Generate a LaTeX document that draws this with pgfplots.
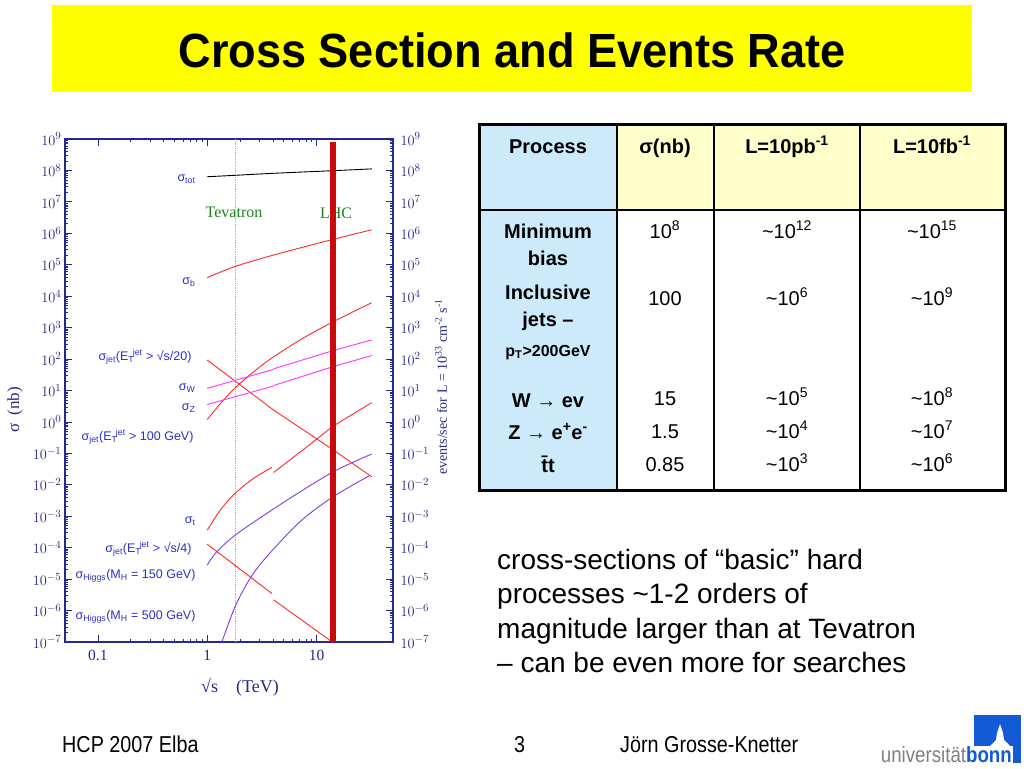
\documentclass[border=0pt]{standalone}
\usepackage{fontspec}
\setmainfont{Liberation Sans}
\newfontfamily\serif{Liberation Serif}
\usepackage{graphicx}
\usepackage{pgfplots}
\pgfplotsset{compat=1.18}

\definecolor{navy}{RGB}{40,40,140}
\definecolor{lblue}{RGB}{45,45,205}
\definecolor{cred}{RGB}{255,40,40}
\definecolor{cmag}{RGB}{255,50,255}
\definecolor{cpur}{RGB}{130,60,230}
\definecolor{lhcred}{RGB}{200,10,10}
\definecolor{tevg}{RGB}{30,130,30}
\definecolor{tevdot}{RGB}{150,190,150}
\definecolor{titley}{RGB}{255,255,0}
\definecolor{hblue}{RGB}{204,234,250}
\definecolor{hyel}{RGB}{255,255,204}
\definecolor{bonnblue}{RGB}{20,90,215}

\newcommand{\fs}[1]{\fontsize{#1}{#1}\selectfont}
\newcommand{\Et}{E\textsubscript{T}\kern-1.5pt\textsuperscript{jet}}

\begin{document}
\begin{tikzpicture}
\useasboundingbox (0pt,0pt) rectangle (1024pt,-768pt);
\begin{scope}[x=1pt, y=1pt]
\fill[white] (0,0) rectangle (1024,-768);
% title bar
\fill[titley] (52,-5) rectangle (972,-92);
\node at (512,-50) {\scalebox{0.94}[1]{\fs{48}\bfseries Cross Section and Events Rate}};
% labels drawn below the curves
\node[tevg, font=\serif\fs{16}] at (234,-212) {Tevatron};
\node[tevg, font=\serif\fs{16}] at (336,-213) {LHC};
% axis titles
\node[navy, font=\serif\fs{18}] at (240,-687) {\textsurd s\quad(TeV)};
\node[navy, font=\serif\fs{17}, rotate=90] at (15,-410) {σ\ \ (nb)};
\node[navy, font=\serif\fs{14}, rotate=90] at (441,-387) {events/sec for L = 10\textsuperscript{33} cm\textsuperscript{-2} s\textsuperscript{-1}};
\end{scope}

\begin{axis}[
  at={(65pt,-642pt)}, anchor=south west,
  width=328pt, height=503pt, scale only axis,
  xmode=log, ymode=log,
  xmin=0.05, xmax=50, ymin=1e-7, ymax=1e9,
  xtick={0.1,1,10}, xticklabels={0.1,1,10},
  ytick={1e-7,1e-6,1e-5,1e-4,1e-3,1e-2,1e-1,1,1e1,1e2,1e3,1e4,1e5,1e6,1e7,1e8,1e9},
  yticklabel pos=left,
  tick align=inside,
  major tick length=7pt, minor tick length=3.5pt,
  axis line style={navy, line width=1.2pt},
  every tick/.style={navy, line width=0.8pt},
  yticklabel style={navy, font=\fs{15}},
  xticklabel style={navy, font=\serif\fs{15.5}, yshift=-5pt},
  clip=true,
]
% Tevatron energy
\addplot[tevdot, densely dotted, line width=0.8pt] coordinates {(1.8,1e-7) (1.8,1e9)};

% sigma_tot
\addplot[black, line width=0.9pt, smooth] coordinates {(1,6.3e7) (1.8,7.0e7) (4,8.1e7) (14,9.8e7) (32,1.12e8)};
% sigma_b
\addplot[cred, line width=0.9pt, smooth] coordinates {(1,3.9e4) (1.78,8.7e4) (4.04,2.04e5) (14.6,6.6e5) (31.9,1.29e6)};
% sigma_jet (ET > sqrt(s)/20)
\addplot[cred, line width=0.9pt] coordinates {(1,93) (4.04,2.4) (14.2,0.13) (31.9,0.018)};
% sigma_jet (ET > 100 GeV)
\addplot[cred, line width=0.9pt, smooth] coordinates {(1,1.2) (1.41,5.0) (2.0,17) (3.5,83) (7.08,407) (14.6,1620) (31.9,6170)};
% sigma_W
\addplot[cmag, line width=0.9pt] coordinates {(1,11.7) (4.04,47)};
\addplot[cmag, line width=0.9pt] coordinates {(4.04,49) (14.2,186) (31.9,407)};
% sigma_Z
\addplot[cmag, line width=0.9pt] coordinates {(1,3.6) (4.04,13.8)};
\addplot[cmag, line width=0.9pt] coordinates {(4.04,14.4) (14.2,57.5) (31.9,129)};
% sigma_t
\addplot[cred, line width=0.9pt, smooth] coordinates {(1,3.6e-4) (1.32,1.6e-3) (1.8,5.4e-3) (2.65,1.6e-2) (3.9,3.6e-2)};
\addplot[cred, line width=0.9pt] coordinates {(4.04,2.45e-2) (7.08,0.11) (14.2,0.74) (31.9,4.1)};
% sigma_jet (ET > sqrt(s)/4)
\addplot[cred, line width=0.9pt] coordinates {(1,1.29e-4) (3.9,3.5e-6)};
\addplot[cred, line width=0.9pt] coordinates {(4.04,2.2e-6) (13.9,1e-7)};
% sigma_Higgs (MH = 150 GeV)
\addplot[cpur, line width=0.9pt, smooth] coordinates {(1,2.8e-5) (1.22,7.4e-5) (1.8,2.5e-4) (3.5,1.23e-3) (7.08,6.0e-3) (14.2,2.6e-2) (24,6.2e-2) (31.9,9.5e-2)};
% sigma_Higgs (MH = 500 GeV)
\addplot[cpur, line width=0.9pt, smooth] coordinates {(1.36,1e-7) (1.8,1.35e-6) (2.47,1.07e-5) (3.5,5.2e-5) (7.08,6.8e-4) (14.2,4.2e-3) (30.8,2.0e-2)};
% LHC energy
\addplot[lhcred, line width=6pt] coordinates {(14,1e-7) (14,8e8)};
\end{axis}

% right-hand rate axis (labels only)
\begin{axis}[
  at={(65pt,-642pt)}, anchor=south west,
  width=328pt, height=503pt, scale only axis,
  xmode=log, ymode=log,
  xmin=0.05, xmax=50, ymin=1e-7, ymax=1e9,
  axis x line=none, axis y line*=right,
  ytick={1e-7,1e-6,1e-5,1e-4,1e-3,1e-2,1e-1,1,1e1,1e2,1e3,1e4,1e5,1e6,1e7,1e8,1e9},
  major tick length=0pt, minor tick length=0pt,
  axis line style={draw=none},
  yticklabel style={navy, font=\fs{15}, xshift=4pt},
]
\addplot[draw=none] coordinates {(1,1)};
\end{axis}

\begin{scope}[x=1pt, y=1pt]
% curve labels
\begin{scope}[lblue, font=\fs{12.5}]
\node[anchor=east] at (199,-179) {σ\textsubscript{tot}};
\node[anchor=east] at (199,-282) {σ\textsubscript{b}};
\node[anchor=east] at (195,-357) {σ\textsubscript{jet}(\Et\ > \textsurd s/20)};
\node[anchor=east] at (199,-388) {σ\textsubscript{W}};
\node[anchor=east] at (199,-408) {σ\textsubscript{Z}};
\node[anchor=east] at (197,-437) {σ\textsubscript{jet}(\Et\ > 100 GeV)};
\node[anchor=east] at (199,-521) {σ\textsubscript{t}};
\node[anchor=east] at (195,-549) {σ\textsubscript{jet}(\Et\ > \textsurd s/4)};
\node[anchor=east] at (199,-576) {σ\textsubscript{Higgs}(M\textsubscript{H} = 150 GeV)};
\node[anchor=east] at (199,-617) {σ\textsubscript{Higgs}(M\textsubscript{H} = 500 GeV)};
\end{scope}

% table
\fill[hblue] (479,-124) rectangle (617,-490);
\fill[hyel] (617,-124) rectangle (1005,-210);
\draw[line width=1.5pt] (617,-124) -- (617,-490) (714,-124) -- (714,-490) (860,-124) -- (860,-490) (479,-210) -- (1005,-210);
\draw[line width=3pt] (479,-124) rectangle (1005,-490);
\begin{scope}[font=\fs{20}]
\node[anchor=base, font=\fs{20}\bfseries] at (548,-153) {Process};
\node[anchor=base, font=\fs{20}\bfseries] at (665,-153) {σ(nb)};
\node[anchor=base, font=\fs{20}\bfseries] at (787,-153) {L=10pb\textsuperscript{-1}};
\node[anchor=base, font=\fs{20}\bfseries] at (932,-153) {L=10fb\textsuperscript{-1}};
\node[anchor=base, font=\fs{20}\bfseries] at (548,-238) {Minimum};
\node[anchor=base, font=\fs{20}\bfseries] at (548,-265) {bias};
\node[anchor=base, font=\fs{20}\bfseries] at (548,-299) {Inclusive};
\node[anchor=base, font=\fs{20}\bfseries] at (548,-326) {jets –};
\node[anchor=base, font=\fs{16}\bfseries] at (548,-356) {p\textsubscript{T}>200GeV};
\node[anchor=base, font=\fs{20}\bfseries] at (548,-407) {W → ev};
\node[anchor=base, font=\fs{20}\bfseries] at (548,-439) {Z → e\textsuperscript{+}e\textsuperscript{-}};
\node[anchor=base, font=\fs{20}\bfseries] at (548,-472) {\={t}t};
\node[anchor=base] at (665,-238) {10\textsuperscript{8}};
\node[anchor=base] at (787,-238) {\textasciitilde 10\textsuperscript{12}};
\node[anchor=base] at (932,-238) {\textasciitilde 10\textsuperscript{15}};
\node[anchor=base] at (665,-305) {100};
\node[anchor=base] at (787,-305) {\textasciitilde 10\textsuperscript{6}};
\node[anchor=base] at (932,-305) {\textasciitilde 10\textsuperscript{9}};
\node[anchor=base] at (665,-405) {15};
\node[anchor=base] at (787,-405) {\textasciitilde 10\textsuperscript{5}};
\node[anchor=base] at (932,-405) {\textasciitilde 10\textsuperscript{8}};
\node[anchor=base] at (665,-438) {1.5};
\node[anchor=base] at (787,-438) {\textasciitilde 10\textsuperscript{4}};
\node[anchor=base] at (932,-438) {\textasciitilde 10\textsuperscript{7}};
\node[anchor=base] at (665,-471) {0.85};
\node[anchor=base] at (787,-471) {\textasciitilde 10\textsuperscript{3}};
\node[anchor=base] at (932,-471) {\textasciitilde 10\textsuperscript{6}};
\end{scope}

% comment text
\begin{scope}[font=\fs{28}, inner sep=0pt]
\node[anchor=base west] at (497,-569) {cross-sections of “basic” hard};
\node[anchor=base west] at (497,-603) {processes \textasciitilde 1-2 orders of};
\node[anchor=base west] at (497,-638) {magnitude larger than at Tevatron};
\node[anchor=base west] at (497,-672) {– can be even more for searches};
\end{scope}

% footer
\begin{scope}[inner sep=0pt]
\node[anchor=base west] at (62,-752) {\scalebox{0.86}[1]{\fs{23}HCP 2007 Elba}};
\node[anchor=base west] at (514,-752) {\scalebox{0.86}[1]{\fs{23}3}};
\node[anchor=base west] at (620,-752) {\scalebox{0.86}[1]{\fs{23}Jörn Grosse-Knetter}};
\end{scope}
\fill[bonnblue] (974,-715) rectangle (1021,-746);
\fill[bonnblue] (1013,-715) rectangle (1021,-763);
\fill[white] (997,-733) -- (1000,-724) -- (1003,-733) -- (1004,-740) -- (1010,-746) -- (990,-746) -- (996,-740) -- cycle;
\node[anchor=base east, inner sep=0pt] at (1012,-762) {\scalebox{0.85}[1]{\fs{22}\textcolor{gray}{universität}\textcolor{bonnblue}{\bfseries bonn}}};
\end{scope}
\end{tikzpicture}
\end{document}
